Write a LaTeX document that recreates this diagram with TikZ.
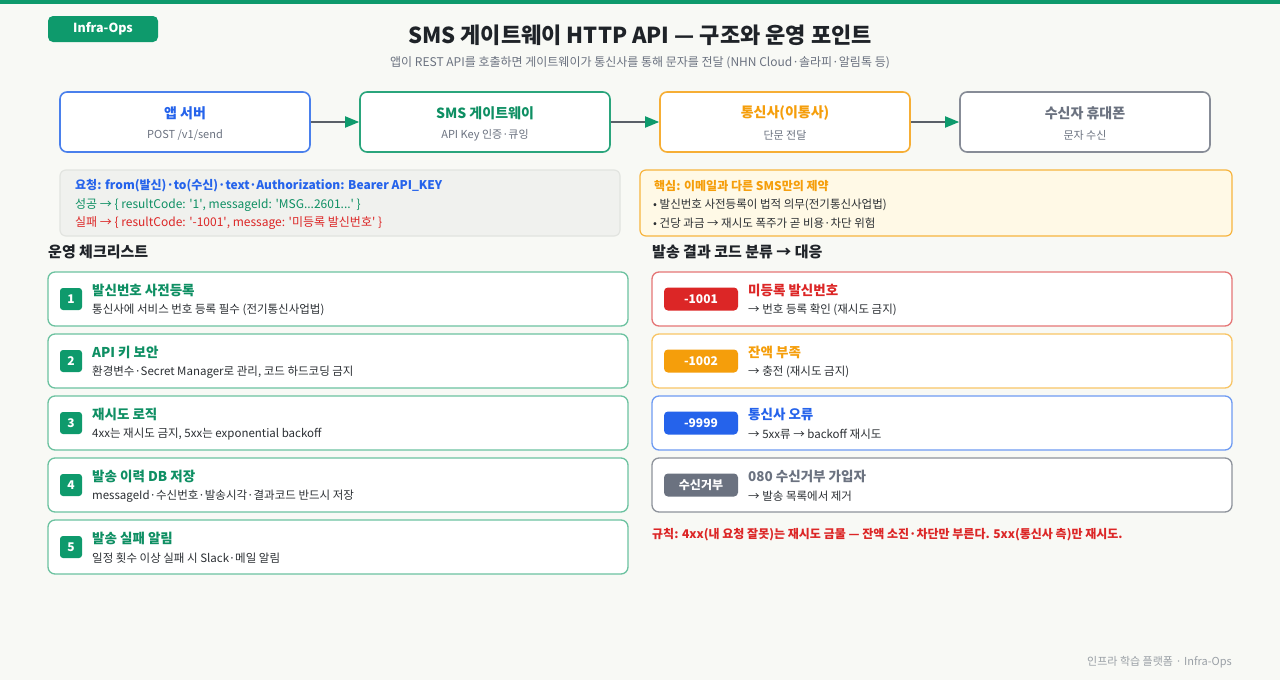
\documentclass[tikz,border=0pt]{standalone}
\usepackage{fontspec}
\setmainfont{Noto Sans CJK KR}
\usepackage{xcolor}
\usetikzlibrary{arrows.meta,positioning}
\definecolor{brand}{HTML}{0E9A6C}
\definecolor{pagebg}{HTML}{F8F9F5}
\definecolor{titletxt}{HTML}{1F2328}
\definecolor{subgray}{HTML}{6B7280}
\definecolor{textdark}{HTML}{2B2F33}
\definecolor{blueline}{HTML}{4A80EC}
\definecolor{bluetxt}{HTML}{2563EB}
\definecolor{greenline}{HTML}{2AA57C}
\definecolor{greentxt}{HTML}{0E8F63}
\definecolor{orangeline}{HTML}{F6AE35}
\definecolor{orangetxt}{HTML}{F59E0B}
\definecolor{grayline}{HTML}{878C97}
\definecolor{arrowgray}{HTML}{5A6068}
\definecolor{reqfill}{HTML}{F0F1EE}
\definecolor{reqline}{HTML}{E2E4E0}
\definecolor{keyfill}{HTML}{FFF9E6}
\definecolor{keyline}{HTML}{F7B43E}
\definecolor{itemline}{HTML}{6CC2A0}
\definecolor{redtxt}{HTML}{DC2626}
\definecolor{redline}{HTML}{E57676}
\definecolor{orangecode}{HTML}{F8C566}
\definecolor{bluecode}{HTML}{6E9BF2}
\definecolor{graycode}{HTML}{8E939B}
\definecolor{footgray}{HTML}{9AA0A6}
\newcommand{\fsz}[1]{\fontsize{#1}{#1}\selectfont}
\newcommand{\q}{\textquotesingle}

\begin{document}
\begin{tikzpicture}[x=1pt,y=-1pt,
  node distance=48.4pt,
  flow/.style={draw,line width=1.6pt,rounded corners=7pt,fill=white,
    minimum width=250pt,minimum height=60pt},
  flowtitle/.style={inner sep=0pt,font=\fsz{14}\bfseries},
  flowsub/.style={inner sep=0pt,font=\fsz{11},text=subgray},
  arr/.style={line width=1.8pt,draw=arrowgray,
    -{Triangle[length=14pt,width=11pt,color=brand]}},
  panel/.style={rounded corners=6pt,line width=1.2pt,minimum height=66pt},
  txt/.style={anchor=west,inner sep=0pt,font=\fsz{12}},
  item/.style={draw,line width=1.3pt,rounded corners=7pt,fill=white,
    minimum width=580pt,minimum height=54pt},
  num/.style={fill=brand,rounded corners=3pt,minimum size=22pt,inner sep=0pt,
    text=white,font=\fsz{12}\bfseries},
  codetag/.style={rounded corners=4pt,minimum width=74pt,minimum height=23pt,
    inner sep=0pt,text=white,font=\fsz{12}\bfseries},
  ititle/.style={anchor=west,inner sep=0pt,font=\fsz{13.5}\bfseries},
  idesc/.style={anchor=west,inner sep=0pt,font=\fsz{11.5},text=textdark},
  heading/.style={anchor=west,inner sep=0pt,font=\fsz{15}\bfseries,text=titletxt}]
\useasboundingbox (0,0) rectangle (1280,680);
\fill[pagebg] (0,0) rectangle (1280,680);
\fill[brand] (0,0) rectangle (1280,4);

% header
\node[fill=brand,rounded corners=5pt,minimum width=110pt,minimum height=26pt,
  text=white,font=\fsz{12.5}\bfseries] (badge) at (103,29) {Infra-Ops};
\node[font=\fsz{22}\bfseries,text=titletxt] (title) at (640,35)
  {SMS 게이트웨이 HTTP API — 구조와 운영 포인트};
\node[font=\fsz{12},text=subgray] (subtitle) at (640,63)
  {앱이 REST API를 호출하면 게이트웨이가 통신사를 통해 문자를 전달 (NHN Cloud·솔라피·알림톡 등)};

% flow row
\node[flow,draw=blueline] (app) at (185,122) {};
\node[flow,draw=greenline,right=of app] (gw) {};
\node[flow,draw=orangeline,right=of gw] (carrier) {};
\node[flow,draw=grayline,right=of carrier] (phone) {};
\node[flowtitle,text=bluetxt] (apptitle) at ([yshift=9pt]app.center) {앱 서버};
\node[flowsub] (appsub) at ([yshift=-13pt]app.center) {POST /v1/send};
\node[flowtitle,text=greentxt] (gwtitle) at ([yshift=9pt]gw.center) {SMS 게이트웨이};
\node[flowsub] (gwsub) at ([yshift=-13pt]gw.center) {API Key 인증·큐잉};
\node[flowtitle,text=orangetxt] (carriertitle) at ([yshift=9pt]carrier.center) {통신사(이통사)};
\node[flowsub] (carriersub) at ([yshift=-13pt]carrier.center) {단문 전달};
\node[flowtitle,text=subgray] (phonetitle) at ([yshift=9pt]phone.center) {수신자 휴대폰};
\node[flowsub] (phonesub) at ([yshift=-13pt]phone.center) {문자 수신};
\draw[arr] (app) -- (gw);
\draw[arr] (gw) -- (carrier);
\draw[arr] (carrier) -- (phone);

% request / key panels
\node[panel,draw=reqline,fill=reqfill,minimum width=560pt] (req) at (340,203) {};
\node[txt,text=bluetxt,font=\fsz{12}\bfseries] (reqline1) at (75,186)
  {요청: from(발신)·to(수신)·text·Authorization: Bearer API\_KEY};
\node[txt,text=greentxt] (reqline2) at (75,205)
  {성공 → \{ resultCode: \q1\q, messageId: \q MSG...2601...\q\ \}};
\node[txt,text=redtxt] (reqline3) at (75,223)
  {실패 → \{ resultCode: \q-1001\q, message: \q 미등록 발신번호\q\ \}};
\node[panel,draw=keyline,fill=keyfill,minimum width=592pt] (key) at (936,203) {};
\node[txt,text=orangetxt,font=\fsz{12}\bfseries] (keyline1) at (654,186)
  {핵심: 이메일과 다른 SMS만의 제약};
\node[txt,text=textdark,font=\fsz{11.5}] (keyline2) at (653,205)
  {• 발신번호 사전등록이 법적 의무(전기통신사업법)};
\node[txt,text=textdark,font=\fsz{11.5}] (keyline3) at (653,223)
  {• 건당 과금 → 재시도 폭주가 곧 비용·차단 위험};

% checklist
\node[heading] (chkhead) at (48,252) {운영 체크리스트};
\node[item,draw=itemline] (chk1) at (338,299) {};
\node[num] (num1) at (71,299) {1};
\node[ititle,text=greentxt] (chk1title) at (92,290) {발신번호 사전등록};
\node[idesc] (chk1desc) at (92,310) {통신사에 서비스 번호 등록 필수 (전기통신사업법)};
\node[item,draw=itemline] (chk2) at (338,361) {};
\node[num] (num2) at (71,361) {2};
\node[ititle,text=greentxt] (chk2title) at (92,352) {API 키 보안};
\node[idesc] (chk2desc) at (92,372) {환경변수·Secret Manager로 관리, 코드 하드코딩 금지};
\node[item,draw=itemline] (chk3) at (338,423) {};
\node[num] (num3) at (71,423) {3};
\node[ititle,text=greentxt] (chk3title) at (92,414) {재시도 로직};
\node[idesc] (chk3desc) at (92,434) {4xx는 재시도 금지, 5xx는 exponential backoff};
\node[item,draw=itemline] (chk4) at (338,485) {};
\node[num] (num4) at (71,485) {4};
\node[ititle,text=greentxt] (chk4title) at (92,476) {발송 이력 DB 저장};
\node[idesc] (chk4desc) at (92,496) {messageId·수신번호·발송시각·결과코드 반드시 저장};
\node[item,draw=itemline] (chk5) at (338,547) {};
\node[num] (num5) at (71,547) {5};
\node[ititle,text=greentxt] (chk5title) at (92,538) {발송 실패 알림};
\node[idesc] (chk5desc) at (92,558) {일정 횟수 이상 실패 시 Slack·메일 알림};

% result codes
\node[heading] (codehead) at (652,252) {발송 결과 코드 분류 → 대응};
\node[item,draw=redline] (code1) at (942,299) {};
\node[codetag,fill=redtxt] (tag1) at (701,299) {-1001};
\node[ititle,text=redtxt] (code1title) at (748,290) {미등록 발신번호};
\node[idesc] (code1desc) at (748,310) {→ 번호 등록 확인 (재시도 금지)};
\node[item,draw=orangecode] (code2) at (942,361) {};
\node[codetag,fill=orangetxt] (tag2) at (701,361) {-1002};
\node[ititle,text=orangetxt] (code2title) at (748,352) {잔액 부족};
\node[idesc] (code2desc) at (748,372) {→ 충전 (재시도 금지)};
\node[item,draw=bluecode] (code3) at (942,423) {};
\node[codetag,fill=bluetxt] (tag3) at (701,423) {-9999};
\node[ititle,text=bluetxt] (code3title) at (748,414) {통신사 오류};
\node[idesc] (code3desc) at (748,434) {→ 5xx류 → backoff 재시도};
\node[item,draw=graycode] (code4) at (942,485) {};
\node[codetag,fill=subgray] (tag4) at (701,485) {수신거부};
\node[ititle,text=subgray] (code4title) at (748,476) {080 수신거부 가입자};
\node[idesc] (code4desc) at (748,496) {→ 발송 목록에서 제거};
\node[txt,text=redtxt,font=\fsz{12}\bfseries] (rule) at (652,535)
  {규칙: 4xx(내 요청 잘못)는 재시도 금물 — 잔액 소진·차단만 부른다. 5xx(통신사 측)만 재시도.};

\node[anchor=east,inner sep=0pt,font=\fsz{11},text=footgray] (footer) at (1232,662)
  {인프라 학습 플랫폼 · Infra-Ops};
\end{tikzpicture}
\end{document}
